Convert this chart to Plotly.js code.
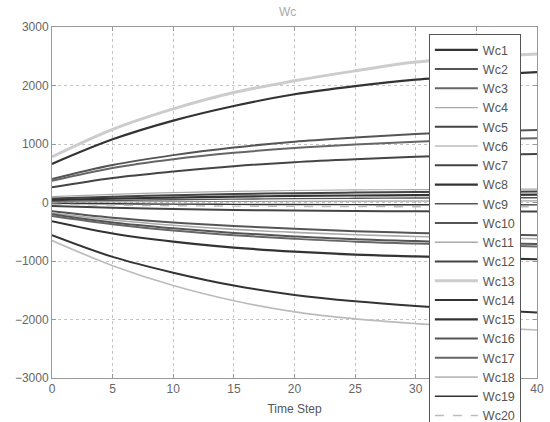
<!DOCTYPE html>
<html>
<head>
<meta charset="utf-8">
<script src="https://cdn.plot.ly/plotly-3.0.1.min.js"></script>
<style>html,body{margin:0;padding:0;background:#fff;}#chart{width:550px;height:422px;}</style>
</head>
<body>
<div id="chart"></div>
<script>
const timeSteps = [0, 5, 10, 15, 20, 25, 30, 35, 40];
const seriesNames = ["Wc1","Wc2","Wc3","Wc4","Wc5","Wc6","Wc7","Wc8","Wc9","Wc10",
                     "Wc11","Wc12","Wc13","Wc14","Wc15","Wc16","Wc17","Wc18","Wc19","Wc20"];
const wc1  = [660, 1080, 1400, 1650, 1850, 1990, 2100, 2170, 2230];
const wc2  = [400, 640, 810, 940, 1040, 1110, 1170, 1210, 1240];
const wc3  = [370, 590, 740, 850, 930, 990, 1040, 1080, 1100];
const wc4  = [100, 140, 170, 190, 205, 215, 220, 225, 230];
const wc5  = [260, 420, 530, 620, 690, 740, 780, 810, 830];
const wc6  = [-650, -1080, -1420, -1680, -1870, -1990, -2070, -2130, -2180];
const wc7  = [70, 100, 125, 145, 160, 170, 178, 183, 186];
const wc8  = [40, 65, 85, 100, 112, 120, 126, 130, 133];
const wc9  = [20, 35, 48, 58, 66, 72, 77, 80, 82];
const wc10 = [-150, -260, -340, -400, -450, -490, -520, -540, -560];
const wc11 = [-180, -300, -390, -460, -510, -550, -580, -600, -620];
const wc12 = [-60, -90, -112, -128, -138, -145, -150, -153, -155];
const wc13 = [780, 1250, 1600, 1880, 2080, 2250, 2400, 2480, 2540];
const wc14 = [-560, -930, -1200, -1420, -1580, -1690, -1770, -1830, -1880];
const wc15 = [-320, -530, -670, -770, -840, -890, -920, -950, -970];
const wc16 = [-200, -340, -440, -520, -580, -630, -660, -690, -710];
const wc17 = [-230, -370, -480, -560, -620, -670, -700, -730, -750];
const wc18 = [5, 10, 15, 18, 21, 23, 25, 26, 27];
const wc19 = [-15, -22, -28, -32, -35, -37, -38, -39, -40];
const wc20 = [-30, -45, -55, -62, -67, -70, -72, -73, -74];
const seriesValues = [wc1,wc2,wc3,wc4,wc5,wc6,wc7,wc8,wc9,wc10,wc11,wc12,wc13,wc14,wc15,wc16,wc17,wc18,wc19,wc20];

const styles = [
  {c:'#333', w:2.2}, {c:'#555', w:2}, {c:'#666', w:2}, {c:'#aaa', w:1.2},
  {c:'#444', w:2}, {c:'#bbb', w:1.6}, {c:'#444', w:2}, {c:'#333', w:2.2},
  {c:'#555', w:1.4}, {c:'#555', w:2}, {c:'#aaa', w:1.6}, {c:'#444', w:2},
  {c:'#ccc', w:3}, {c:'#333', w:2}, {c:'#333', w:2.2}, {c:'#555', w:2},
  {c:'#666', w:2}, {c:'#888', w:1}, {c:'#333', w:1.4}, {c:'#bbb', w:1.4, d:'dash'}
];

const traces = seriesNames.map((n, i) => ({
  x: timeSteps, y: seriesValues[i], name: n, type: 'scatter', mode: 'lines',
  line: {color: styles[i].c, width: styles[i].w, shape: 'spline', dash: styles[i].d || 'solid'}
}));

const axisCommon = {
  showline: true, linecolor: '#999', linewidth: 1, mirror: 'ticks',
  ticks: 'inside', ticklen: 4, tickcolor: '#999',
  showgrid: true, gridcolor: '#c4c4c4', griddash: 'dot', gridwidth: 1,
  zeroline: false, automargin: false,
  tickfont: {family: 'Liberation Sans, Arial', size: 12, color: '#666'}
};

const layout = {
  width: 550, height: 422,
  margin: {l: 52, r: 13, t: 27, b: 44, autoexpand: false},
  paper_bgcolor: '#fff', plot_bgcolor: '#fff',
  title: {text: 'Wc', font: {family: 'Liberation Sans, Arial', size: 12, color: '#aaa'},
          x: 0.523, xanchor: 'center', y: 0.972, yref: 'container', yanchor: 'middle'},
  xaxis: Object.assign({}, axisCommon, {range: [0, 40], dtick: 5,
    title: {text: 'Time Step', standoff: 9, font: {family: 'Liberation Sans, Arial', size: 12, color: '#555'}}}),
  yaxis: Object.assign({}, axisCommon, {range: [-3000, 3000], dtick: 1000}),
  showlegend: true,
  legend: {x: 0.777, y: 0.919, xanchor: 'left', yanchor: 'top', yref: 'container',
           maxheight: 1, itemwidth: 43,
           bgcolor: '#fff', bordercolor: '#555', borderwidth: 1,
           font: {family: 'Liberation Sans, Arial', size: 12.5, color: '#555'},
           tracegroupgap: 0}
};

Plotly.newPlot('chart', traces, layout, {displayModeBar: false, staticPlot: true});
</script>
</body>
</html>
